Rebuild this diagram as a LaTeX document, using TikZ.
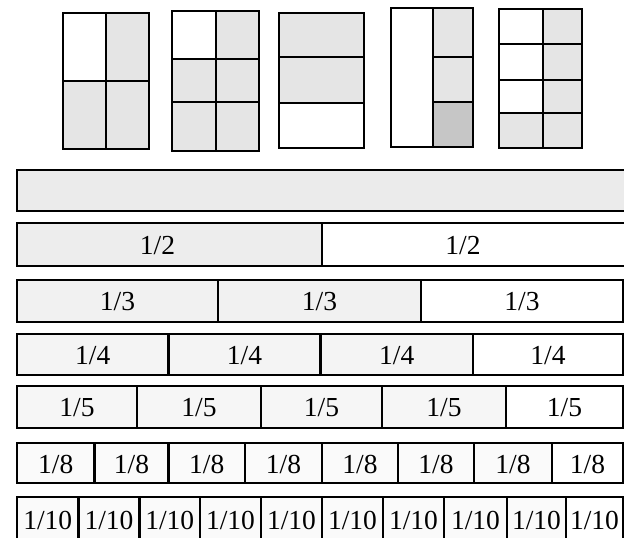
\documentclass[tikz,border=0pt]{standalone}
\usepackage{fontspec}
\setmainfont{Liberation Serif}
\newcommand\fracrow[7]{%
  \foreach \a/\b [count=\i] in {#4} {%
    \ifnum\i>#5 \def\fc{white}\else\def\fc{#6}\fi
    \draw[barline,fill=\fc] (\a,#1) rectangle (\b,#2);
    \node[lbl] (#3c\i) at ({(\a+\b)/2+#7},{(#1+#2)/2+1}) {\csname lab#3\endcsname};
  }%
}
\def\labw{}
\def\labh{1/2}
\def\labt{1/3}
\def\labq{1/4}
\def\labf{1/5}
\def\labe{1/8}
\def\labd{1/10}
\begin{document}
\begin{tikzpicture}[x=1pt,y=-1pt,
  frame/.style={line width=2.8pt},
  barline/.style={line width=2.2pt},
  shadeA/.style={fill=gray!20},
  shadeB/.style={fill=gray!45},
  lbl/.style={inner sep=0pt,font=\fontsize{27.5}{27.5}\selectfont}]
\useasboundingbox (0,0) rectangle (624,538);
% --- box 1 ---
\fill[shadeA] (106,13) rectangle (149,81);
\fill[shadeA] (63,81) rectangle (149,149);
\draw[frame] (63,13) rectangle (149,149);
\draw[frame] (106,13) -- (106,149) (63,81) -- (149,81);
% --- box 2 ---
\fill[shadeA] (216,11) rectangle (259,59);
\fill[shadeA] (172,59) rectangle (259,151);
\draw[frame] (172,11) rectangle (259,151);
\draw[frame] (216,11) -- (216,151) (172,59) -- (259,59) (172,102) -- (259,102);
% --- box 3 ---
\fill[shadeA] (279,13) rectangle (364,103);
\draw[frame] (279,13) rectangle (364,148);
\draw[frame] (279,57) -- (364,57) (279,103) -- (364,103);
% --- box 4 ---
\fill[shadeA] (433,8) rectangle (473,102);
\fill[shadeB] (433,102) rectangle (473,147);
\draw[frame] (391,8) rectangle (473,147);
\draw[frame] (433,8) -- (433,147) (433,57) -- (473,57) (433,102) -- (473,102);
% --- box 5 ---
\fill[shadeA] (543,9) rectangle (582,148);
\fill[shadeA] (499,113) rectangle (543,148);
\draw[frame] (499,9) rectangle (582,148);
\draw[frame] (543,9) -- (543,148) (499,44) -- (582,44) (499,80) -- (582,80) (499,113) -- (582,113);
% --- bars ---
\fracrow{170}{211}{w}{17/628}{1}{gray!16}{0}
\fracrow{223}{266}{h}{17/322,322/628}{1}{gray!14}{-12}
\fracrow{280}{322}{t}{17/218,218/421,421/623}{2}{gray!11}{0}
\fracrow{334}{375}{q}{17/168.5,168.5/320.5,320.5/473,473/623}{3}{gray!9}{0}
\fracrow{386}{428}{f}{17/137,137/261,261/382,382/506,506/623}{4}{gray!7}{0}
\fracrow{443}{483}{e}{17/94.5,94.5/168.5,168.5/245,245/322,322/398,398/474,474/552,552/623}{7}{gray!4}{0}
\fracrow{497}{541}{d}{17/78.5,78.5/139.5,139.5/200,200/261,261/322,322/383,383/444,444/507,507/566,566/623}{9}{gray!4}{0}
\end{tikzpicture}
\end{document}
